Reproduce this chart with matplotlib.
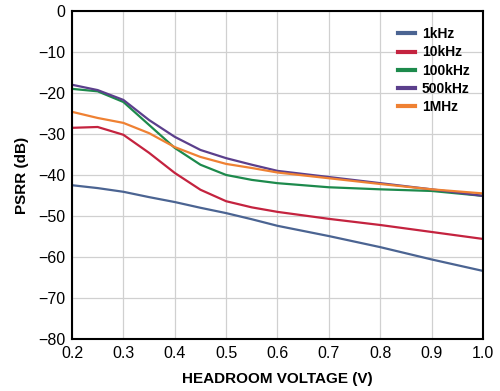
import matplotlib.pyplot as plt
import numpy as np

plt.rcParams['font.family'] = ['Liberation Sans', 'DejaVu Sans']

# headroom voltage (V)
v = [0.2, 0.25, 0.3, 0.35, 0.4, 0.45, 0.5, 0.55, 0.6, 0.7, 0.8, 0.9, 1.0]

# PSRR (dB)
psrr_1k = [-42.5, -43.2, -44.1, -45.4, -46.6, -48.0, -49.3, -50.8, -52.4, -54.9, -57.6, -60.6, -63.4]
psrr_10k = [-28.5, -28.3, -30.2, -34.6, -39.5, -43.6, -46.4, -47.9, -49.0, -50.7, -52.2, -53.9, -55.6]
psrr_100k = [-19.0, -19.6, -22.2, -27.8, -33.4, -37.5, -40.0, -41.2, -42.0, -43.0, -43.5, -43.9, -45.1]
psrr_500k = [-18.0, -19.3, -21.7, -26.6, -30.7, -33.9, -35.9, -37.5, -39.0, -40.5, -42.0, -43.5, -45.1]
psrr_1M = [-24.6, -26.1, -27.3, -29.8, -33.2, -35.6, -37.3, -38.3, -39.4, -40.8, -42.2, -43.5, -44.5]

labels = ['1kHz', '10kHz', '100kHz', '500kHz', '1MHz']
colors = ['#4b6492', '#c4233f', '#1d8a4c', '#5b3f8c', '#ef8133']

fig = plt.figure(figsize=(5, 3.91), dpi=100)
ax = fig.add_axes([0.144, 0.133, 0.822, 0.839])

for y, lab, c in zip([psrr_1k, psrr_10k, psrr_100k, psrr_500k, psrr_1M], labels, colors):
    ax.plot(v, y, color=c, lw=1.6, label=lab)

ax.set_xlim(0.2, 1.0)
ax.set_ylim(-80, 0)
ax.set_xticks(np.arange(0.2, 1.01, 0.1))
ax.set_xticklabels(['0.2', '0.3', '0.4', '0.5', '0.6', '0.7', '0.8', '0.9', '1.0'])
ax.set_yticks(np.arange(-80, 1, 10))
ax.grid(True, color='#d0d0d0', lw=0.9)
ax.tick_params(length=0, labelsize=11.5, pad=5)
for s in ax.spines.values():
    s.set_linewidth(1.5)

ax.set_xlabel('HEADROOM VOLTAGE (V)', fontsize=11, fontweight='bold', labelpad=8)
ax.set_ylabel('PSRR (dB)', fontsize=11, fontweight='bold', labelpad=6)

leg = ax.legend(loc='upper left', bbox_to_anchor=(0.77, 0.98), frameon=False,
                prop={'size': 10, 'weight': 'bold'}, handlelength=1.2,
                handletextpad=0.5, labelspacing=0.3, borderaxespad=0.3)
for line in leg.get_lines():
    line.set_linewidth(3)

fig.savefig('out.png', dpi=100)
